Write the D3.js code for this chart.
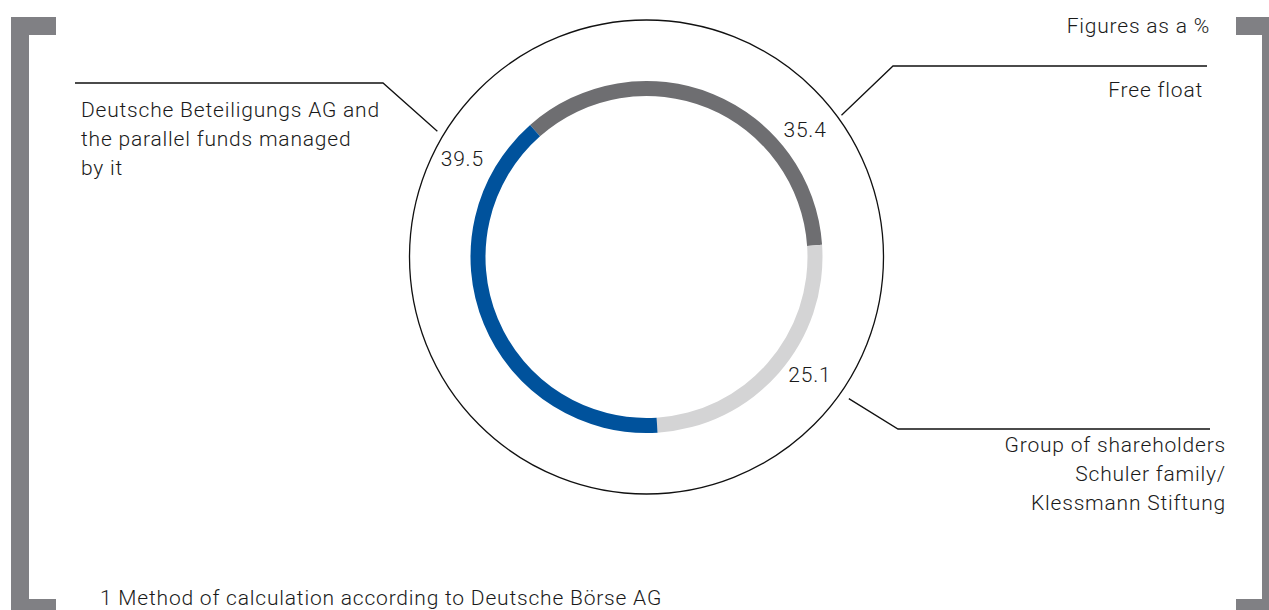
<!DOCTYPE html>
<html>
<head>
<meta charset="utf-8">
<script src="https://cdn.jsdelivr.net/npm/d3@7"></script>
<style>
  html, body { margin: 0; padding: 0; background: #fff; }
  svg text { font-family: Roboto, "Liberation Sans", sans-serif; font-weight: 300; fill: #1a1a1a; letter-spacing: 0.8px; }
</style>
</head>
<body>
<div id="chart"></div>
<script>
// Shareholder structure, figures as a %
const holders = ["Free float", "Schuler family / Klessmann Stiftung", "Deutsche Beteiligungs AG"];
const shares = [35.4, 25.1, 39.5];
const valueLabels = ["35.4", "25.1", "39.5"];
const holderLines = [
  ["Free float"],
  ["Group of shareholders", "Schuler family/", "Klessmann Stiftung"],
  ["Deutsche Beteiligungs AG and", "the parallel funds managed", "by it"]
];

const width = 1269, height = 610;
const cx = 646.5, cy = 257;

const svg = d3.select("#chart").append("svg")
    .attr("width", width)
    .attr("height", height);

// Brackets left and right
const bracket = "#808084";
svg.append("path")
    .attr("fill", bracket)
    .attr("d", "M11,17 H56 V35 H29 V599 H56 V610 H11 Z");
svg.append("path")
    .attr("fill", bracket)
    .attr("d", "M1236,17 H1269 V610 H1236 V599 H1262 V35 H1236 Z");

const g = svg.append("g").attr("transform", `translate(${cx},${cy})`);

// outer thin circle
g.append("circle")
    .attr("r", 237)
    .attr("fill", "none")
    .attr("stroke", "#111")
    .attr("stroke-width", 1.3);

const color = d3.scaleOrdinal()
    .domain(holders)
    .range(["#6e6e71", "#d4d4d5", "#00529c"]);

const start = -41.4 * Math.PI / 180;
const pie = d3.pie()
    .sort(null)
    .startAngle(start)
    .endAngle(start + 2 * Math.PI);

const arcs = pie(shares);
const arc = d3.arc().innerRadius(161).outerRadius(176);

g.selectAll("path.seg")
  .data(arcs)
  .enter().append("path")
    .attr("class", "seg")
    .attr("d", arc)
    .attr("fill", (d, i) => color(holders[i]));

// label layout: value label polar position, leader start polar, corner, line end, text position
const layout = [
  {val: [51, 204], lead: [54, 241], corner: [893, 66], endX: 1207, tx: 1203, ty: 97, anchor: "end"},
  {val: [125.6, 201], lead: [125, 247], corner: [898, 429], endX: 1210, tx: 1226, ty: 452, anchor: "end"},
  {val: [-61.8, 209], lead: [-59, 244], corner: [383, 83], endX: 75, tx: 81, ty: 117, anchor: "start"}
];

function polar(a, r) {
  const t = a * Math.PI / 180;
  return [cx + r * Math.sin(t), cy - r * Math.cos(t)];
}

arcs.forEach((d, i) => {
  const L = layout[i];
  const p = polar(L.val[0], L.val[1]);
  svg.append("text")
      .attr("x", p[0])
      .attr("y", p[1] + 8)
      .attr("text-anchor", "middle")
      .attr("font-size", 21)
      .text(valueLabels[i]);

  const s = polar(L.lead[0], L.lead[1]);
  svg.append("path")
      .attr("fill", "none")
      .attr("stroke", "#111")
      .attr("stroke-width", 1.3)
      .attr("d", d3.line()([s, L.corner, [L.endX, L.corner[1]]]));

  const t = svg.append("text")
      .attr("text-anchor", L.anchor)
      .attr("font-size", 21);
  holderLines[i].forEach((line, j) => {
    t.append("tspan")
        .attr("x", L.tx)
        .attr("y", L.ty + j * 29)
        .text(line);
  });
});

svg.append("text")
    .attr("x", 1210)
    .attr("y", 33)
    .attr("text-anchor", "end")
    .attr("font-size", 21)
    .text("Figures as a %");

svg.append("text")
    .attr("x", 100)
    .attr("y", 605)
    .attr("font-size", 21)
    .text("1 Method of calculation according to Deutsche Börse AG");
</script>
</body>
</html>
